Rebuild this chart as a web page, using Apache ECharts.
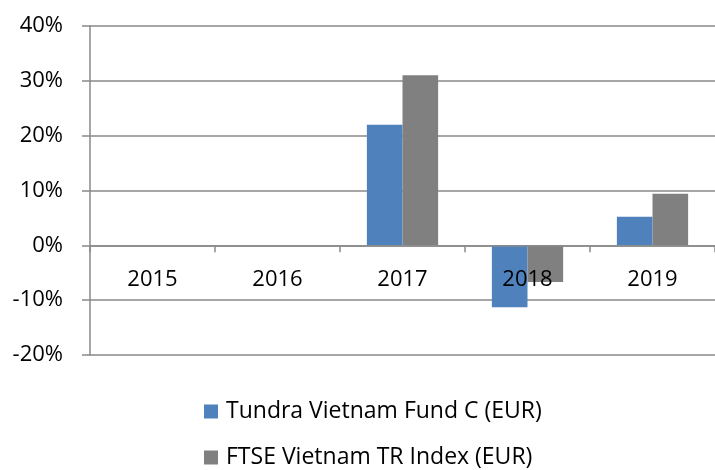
<!doctype html>
<html lang="en">
<head>
    <meta charset="UTF-8">
    <title>Tundra Vietnam Fund</title>
    <script src="https://cdn.jsdelivr.net/npm/echarts@6/dist/echarts.min.js"></script>
    <style>
        body { margin: 0; background: #fff; }
        #main { width: 715px; height: 470px; }
    </style>
</head>
<body>
<div id="main"></div>
<script>
    // annual returns, %
    var years = ['2015', '2016', '2017', '2018', '2019'];
    var fund = [null, null, 22, -11.3, 5.2];
    var index = [null, null, 31, -6.7, 9.4];
    var fundName = 'Tundra Vietnam Fund C (EUR)';
    var indexName = 'FTSE Vietnam TR Index (EUR)';
    var yMin = -20, yMax = 40;

    var font = '"Open Sans", sans-serif';
    var lineColor = '#898989';
    var gridTop = 26, gridBottom = 115, chartH = 470;

    // move the category axis up to the 0% line
    var plotH = chartH - gridTop - gridBottom;
    var zeroOffset = -plotH * (0 - yMin) / (yMax - yMin);

    function legendItem(name, top) {
        return {
            orient: 'vertical',
            left: 204,
            top: top,
            padding: 0,
            itemWidth: 14,
            itemHeight: 14,
            icon: 'rect',
            textStyle: {fontSize: 23, color: '#000', fontFamily: font, padding: [0, 0, 0, 3]},
            data: [name]
        };
    }

    var myChart = echarts.init(document.getElementById('main'));
    var option = {
        animation: false,
        backgroundColor: '#fff',
        color: ['#4f81bd', '#808080'],
        textStyle: {fontFamily: font},
        grid: {left: 90, right: 0, top: gridTop, bottom: gridBottom},
        legend: [legendItem(fundName, 400), legendItem(indexName, 446)],
        xAxis: {
            type: 'category',
            data: years,
            position: 'bottom',
            offset: zeroOffset,
            z: 5,
            axisLine: {onZero: false, lineStyle: {color: lineColor, width: 1.5}},
            axisTick: {show: true, length: 7, lineStyle: {color: lineColor, width: 1.5}},
            axisLabel: {fontSize: 22, color: '#000', margin: 23, fontFamily: font}
        },
        yAxis: {
            type: 'value',
            min: yMin,
            max: yMax,
            interval: 10,
            axisLine: {show: true, lineStyle: {color: lineColor, width: 1.5}},
            axisTick: {show: true, length: 8, lineStyle: {color: lineColor, width: 1.5}},
            axisLabel: {fontSize: 22, color: '#000', margin: 27, formatter: '{value}%', fontFamily: font},
            splitLine: {show: true, lineStyle: {color: lineColor, width: 1.5}}
        },
        series: [{
            name: fundName,
            type: 'bar',
            barGap: 0,
            barCategoryGap: '43%',
            data: fund
        }, {
            name: indexName,
            type: 'bar',
            data: index
        }]
    };
    myChart.setOption(option);
</script>
</body>
</html>
